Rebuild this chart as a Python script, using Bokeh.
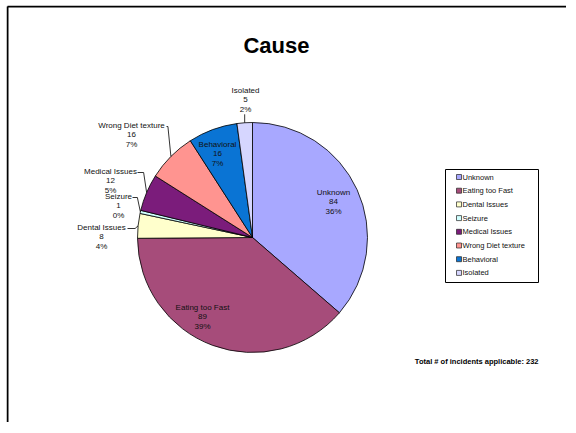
import math
from bokeh.plotting import figure
from bokeh.models import Range1d, ColumnDataSource
from bokeh.core.properties import value
from bokeh.embed import file_html
from bokeh.resources import INLINE

# ---------------- data ----------------
categories = ["Unknown", "Eating too Fast", "Dental Issues", "Seizure",
              "Medical Issues", "Wrong Diet texture", "Behavioral", "Isolated"]
counts = [84, 89, 8, 1, 12, 16, 16, 5]
pct_labels = ["36%", "39%", "4%", "0%", "5%", "7%", "7%", "2%"]
colors = ["#A8A8FF", "#A64C7A", "#FFFFCC", "#D0FFFF",
          "#7B1C7B", "#FF9490", "#0A74D4", "#D6D6FF"]
title_text = "Cause"
total_incidents = 232

# ---------------- layout ----------------
PAGE_H = 433
OX, OY = 6, 5          # page origin of the figure
W, H = 560, 417
FONT = "Liberation Sans"

def Y(py):
    return PAGE_H - py

p = figure(width=W, height=H, output_backend="svg", toolbar_location=None,
           x_range=Range1d(OX, OX + W), y_range=Range1d(Y(OY + H), Y(OY)),
           min_border=0)
p.styles = {"margin-left": "6px", "margin-top": "5px"}
p.axis.visible = False
p.grid.visible = False
p.outline_line_color = None
p.background_fill_color = "white"
p.border_fill_color = "white"

# frame lines (top and left)
p.line(x=[OX + 1, OX + W], y=[Y(OY + 1), Y(OY + 1)], line_color="black", line_width=2)
p.line(x=[OX + 1, OX + 1], y=[Y(OY + 1), Y(OY + H)], line_color="black", line_width=2)

# pie
CX, CY, R = 252, 237, 115
tot = sum(counts)
cum = [0]
for c in counts:
    cum.append(cum[-1] + c)
start = [math.pi / 2 - 2 * math.pi * cum[i] / tot for i in range(len(counts))]
end = [math.pi / 2 - 2 * math.pi * cum[i + 1] / tot for i in range(len(counts))]
mid = [2 * math.pi * (cum[i] + cum[i + 1]) / 2 / tot for i in range(len(counts))]  # clockwise from top

src = ColumnDataSource(dict(start=start, end=end, color=colors, cat=categories))
p.wedge(x=CX, y=Y(CY), radius=R, start_angle="start", end_angle="end",
        direction="clock", fill_color="color", line_color="black",
        line_width=0.8, source=src)

# data labels: first-line centre (page px) per slice
label_pos = {
    "Unknown": (333, 192),
    "Eating too Fast": (202, 307),
    "Dental Issues": (101, 227),
    "Seizure": (118, 196),
    "Medical Issues": (110, 171),
    "Wrong Diet texture": (131, 125),
    "Behavioral": (217, 144),
    "Isolated": (245, 90),
}
leader_start = {
    "Dental Issues": 127,
    "Seizure": 132,
    "Medical Issues": 137,
    "Wrong Diet texture": 166,
}
LP = 9.4
lx, ly, lt = [], [], []
for i, cat in enumerate(categories):
    x0, y0 = label_pos[cat]
    for k, t in enumerate([cat, str(counts[i]), pct_labels[i]]):
        lx.append(x0)
        ly.append(Y(y0 + k * LP))
        lt.append(t)
p.text(x=lx, y=ly, text=lt, text_font=value(FONT), text_font_size="8px",
       text_color="#111111", text_align="center", text_baseline="middle")

# leader lines
for i, cat in enumerate(categories):
    ex = CX + R * math.sin(mid[i])
    ey = CY - R * math.cos(mid[i])
    if cat in leader_start:
        x0, y0 = label_pos[cat]
        sx = leader_start[cat]
        cxr = ex - 3 if ex - 3 > sx else sx + 2
        p.line(x=[sx, cxr, ex], y=[Y(y0 + 1), Y(y0 + 1), Y(ey)],
               line_color="black", line_width=0.8)
    elif cat == "Isolated":
        x0, y0 = label_pos[cat]
        p.line(x=[ex, ex], y=[Y(y0 + 2 * LP + 5), Y(ey)],
               line_color="black", line_width=0.8)

# title
p.text(x=[276], y=[Y(45)], text=[title_text], text_font=value(FONT),
       text_font_size="22px", text_font_style="bold", text_color="black",
       text_align="center", text_baseline="middle")

# legend (manual)
LX0, LY0, LX1, LY1 = 445, 169, 538, 282
p.quad(left=LX0, right=LX1, bottom=Y(LY1), top=Y(LY0), fill_color="white",
       line_color="black", line_width=1)
pitch = 13.7
leg_y = [Y(176.5 + i * pitch) for i in range(len(categories))]
p.rect(x=[458.5] * len(categories), y=leg_y, width=5, height=5,
       fill_color=colors, line_color="#222222", line_width=0.7)
p.text(x=[462] * len(categories), y=leg_y, text=categories,
       text_font=value(FONT), text_font_size="7.5px", text_color="#111111",
       text_align="left", text_baseline="middle")

# total note
p.text(x=[538], y=[Y(361)], text=["Total # of incidents applicable: %d" % total_incidents],
       text_font=value(FONT), text_font_size="7.5px", text_font_style="bold",
       text_color="black", text_align="right", text_baseline="middle")

open("out.html", "w").write(file_html(p, INLINE))
